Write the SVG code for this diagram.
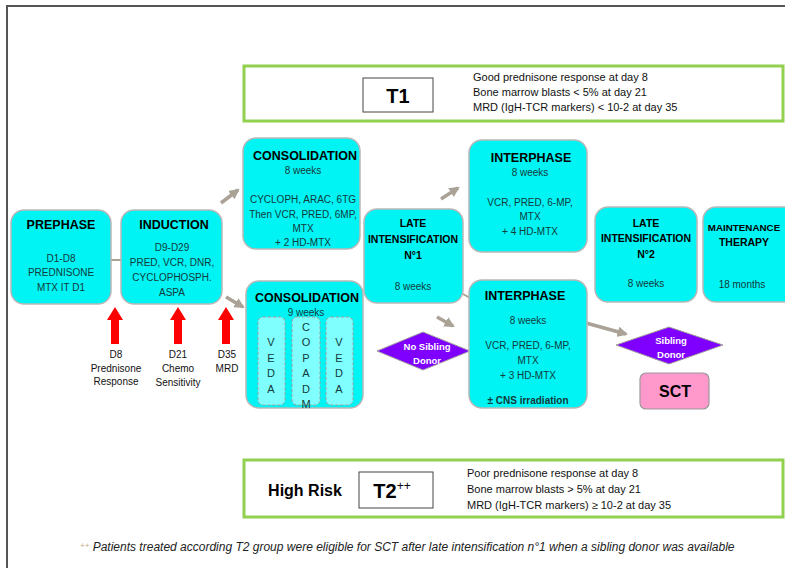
<svg xmlns="http://www.w3.org/2000/svg" width="785" height="568" viewBox="0 0 785 568">
<defs>
<marker id="ah" viewBox="0 0 10 10" refX="8" refY="5" markerWidth="3" markerHeight="3" orient="auto" markerUnits="strokeWidth">
<path d="M0,0 L10,5 L0,10 z" fill="#aaa296"/>
</marker>
<style>
.frame{stroke:#555;stroke-width:2;fill:none}
.grn{fill:#fff;stroke:#92d050;stroke-width:3}
.tbox{fill:#fff;stroke:#444;stroke-width:1}
.cy{fill:#00f4f4;stroke:#b8b8b8;stroke-width:1.5}
.sub{fill:#80ffff;stroke:#a0a0a0;stroke-width:1;stroke-dasharray:3,2}
.dia{fill:#7f00ff;stroke:#a0a0a0;stroke-width:1}
.sct{fill:#ff99cc;stroke:#999;stroke-width:1.2}
.con{stroke:#aaa296;stroke-width:3.5;fill:none}
.con2{stroke:#aaa296;stroke-width:2;fill:none}
.red{fill:#ff0000}
text{font-family:"Liberation Sans",Arial,sans-serif;text-anchor:middle;fill:#123a3a}
.h{font-weight:bold;font-size:12.5px;fill:#000}
.h2{font-weight:bold;font-size:10.5px;fill:#000}
.n{font-size:10px}
.s{font-size:11px;text-anchor:start;fill:#111}
.lbl{font-size:10px;fill:#111}
.dt{font-weight:bold;font-size:9.5px;fill:#fff}
.big{font-weight:bold;font-size:20px;fill:#000;font-family:Arial,"Liberation Sans",sans-serif}
.let{font-size:11px;fill:#123a3a}
</style>
</defs>
<rect width="785" height="568" fill="#fff"/>
<path class="frame" d="M7,568 V6 H785"/>

<g id="t1">
<rect class="grn" x="244" y="66" width="539" height="55"/>
<rect class="tbox" x="363" y="78" width="70" height="34"/>
<text class="big" x="398" y="103">T1</text>
<text class="s" x="473" y="81">Good prednisone response at day 8</text>
<text class="s" x="473" y="96">Bone marrow blasts &lt; 5% at day 21</text>
<text class="s" x="473" y="111">MRD (IgH-TCR markers) &lt; 10-2 at day 35</text>
</g>

<g id="t2">
<rect class="grn" x="244" y="460" width="539" height="57"/>
<text x="305" y="496" style="font-weight:bold;font-size:16px;fill:#000">High Risk</text>
<rect class="tbox" x="359" y="472" width="74" height="36"/>
<text class="big" x="392" y="498">T2<tspan font-size="12" dy="-8" font-weight="normal">++</tspan></text>
<text class="s" x="467" y="477">Poor prednisone response at day 8</text>
<text class="s" x="467" y="493">Bone marrow blasts &gt; 5% at day 21</text>
<text class="s" x="467" y="509">MRD (IgH-TCR markers) ≥ 10-2 at day 35</text>
</g>

<g id="connectors">
<line class="con2" x1="111" y1="260" x2="121" y2="260"/>
<line class="con" x1="221" y1="203" x2="238" y2="190" marker-end="url(#ah)"/>
<line class="con" x1="226" y1="297" x2="243" y2="307" marker-end="url(#ah)"/>
<line class="con" x1="441" y1="199" x2="458" y2="188" marker-end="url(#ah)"/>
<line class="con2" x1="463" y1="294" x2="470" y2="298"/>
<line class="con" x1="437" y1="317" x2="453" y2="326" marker-end="url(#ah)"/>
<line class="con" x1="586" y1="323" x2="626" y2="334" marker-end="url(#ah)"/>
</g>

<g id="prephase">
<rect class="cy" x="11" y="210" width="100" height="94" rx="13"/>
<text class="h" x="61" y="229">PREPHASE</text>
<text class="n" x="61" y="262">D1-D8</text>
<text class="n" x="61" y="276">PREDNISONE</text>
<text class="n" x="61" y="291">MTX IT D1</text>
</g>

<g id="induction">
<rect class="cy" x="121" y="210" width="101" height="94" rx="13"/>
<text class="h" x="174" y="229">INDUCTION</text>
<text class="n" x="172" y="251">D9-D29</text>
<text class="n" x="172" y="266">PRED, VCR, DNR,</text>
<text class="n" x="172" y="281">CYCLOPHOSPH.</text>
<text class="n" x="172" y="296">ASPA</text>
</g>

<g id="markers">
<path class="red" d="M115,307 L123,320 L119,320 L119,344 L111,344 L111,320 L107,320 z"/>
<path class="red" d="M178,307 L186,320 L182,320 L182,344 L174,344 L174,320 L170,320 z"/>
<path class="red" d="M226,307 L234,320 L230,320 L230,344 L222,344 L222,320 L218,320 z"/>
<text class="lbl" x="116" y="358">D8</text>
<text class="lbl" x="116" y="372">Prednisone</text>
<text class="lbl" x="116" y="385">Response</text>
<text class="lbl" x="178" y="358">D21</text>
<text class="lbl" x="178" y="372">Chemo</text>
<text class="lbl" x="178" y="386">Sensitivity</text>
<text class="lbl" x="227" y="358">D35</text>
<text class="lbl" x="227" y="372">MRD</text>
</g>

<g id="consolidation1">
<rect class="cy" x="243" y="138" width="117" height="111" rx="13"/>
<text class="h" x="305" y="160">CONSOLIDATION</text>
<text class="n" x="303" y="174">8 weeks</text>
<text class="n" x="303" y="203">CYCLOPH, ARAC, 6TG</text>
<text class="n" x="303" y="218">Then VCR, PRED, 6MP,</text>
<text class="n" x="303" y="232">MTX</text>
<text class="n" x="303" y="246">+ 2 HD-MTX</text>
</g>

<g id="consolidation2">
<rect class="cy" x="246" y="281" width="117" height="127" rx="13"/>
<text class="h" x="307" y="302">CONSOLIDATION</text>
<text class="n" x="306" y="316">9 weeks</text>
<rect class="sub" x="258" y="317" width="27" height="88" rx="5"/>
<rect class="sub" x="292" y="317" width="28" height="88" rx="5"/>
<rect class="sub" x="326" y="317" width="27" height="88" rx="5"/>
<g class="let">
<text x="271" y="346">V</text><text x="271" y="362">E</text><text x="271" y="377">D</text><text x="271" y="393">A</text>
<text x="306" y="331">C</text><text x="306" y="346">O</text><text x="306" y="362">P</text><text x="306" y="377">A</text><text x="306" y="393">D</text><text x="306" y="408">M</text>
<text x="339" y="346">V</text><text x="339" y="362">E</text><text x="339" y="377">D</text><text x="339" y="393">A</text>
</g>
</g>

<g id="lateint1">
<rect class="cy" x="364" y="209" width="99" height="94" rx="13"/>
<text class="h2" x="413" y="227">LATE</text>
<text class="h2" x="413" y="243">INTENSIFICATION</text>
<text class="h2" x="413" y="259">N°1</text>
<text class="n" x="413" y="290">8 weeks</text>
</g>

<g id="nosibling">
<polygon class="dia" points="377,351 423,332 470,351 423,370"/>
<text class="dt" x="427" y="350">No Sibling</text>
<text class="dt" x="427" y="364">Donor</text>
</g>

<g id="interphase1">
<rect class="cy" x="469" y="140" width="118" height="112" rx="13"/>
<text class="h" x="531" y="162">INTERPHASE</text>
<text class="n" x="530" y="176">8 weeks</text>
<text class="n" x="530" y="206">VCR, PRED, 6-MP,</text>
<text class="n" x="530" y="220">MTX</text>
<text class="n" x="530" y="235">+ 4 HD-MTX</text>
</g>

<g id="interphase2">
<rect class="cy" x="469" y="280" width="118" height="128" rx="13"/>
<text class="h" x="525" y="300">INTERPHASE</text>
<text class="n" x="528" y="324">8 weeks</text>
<text class="n" x="528" y="349">VCR, PRED, 6-MP,</text>
<text class="n" x="528" y="364">MTX</text>
<text class="n" x="528" y="379">+ 3 HD-MTX</text>
<text class="n" x="528" y="404" font-weight="bold">± CNS irradiation</text>
</g>

<g id="lateint2">
<rect class="cy" x="595" y="207" width="102" height="95" rx="13"/>
<text class="h2" x="646" y="227">LATE</text>
<text class="h2" x="646" y="242">INTENSIFICATION</text>
<text class="h2" x="646" y="258">N°2</text>
<text class="n" x="646" y="287">8 weeks</text>
</g>

<g id="maintenance">
<rect class="cy" x="703" y="207" width="95" height="95" rx="13"/>
<text x="744" y="231" style="font-weight:bold;font-size:9.8px;fill:#000">MAINTENANCE</text>
<text class="h2" x="744" y="246">THERAPY</text>
<text class="n" x="742" y="288">18 months</text>
</g>

<g id="sibling">
<polygon class="dia" points="616,345 669,327 723,345 669,364"/>
<text class="dt" x="671" y="344">Sibling</text>
<text class="dt" x="671" y="358">Donor</text>
</g>

<g id="sct">
<rect class="sct" x="640" y="373" width="69" height="36" rx="6"/>
<text x="675" y="397" style="font-family:Arial,'Liberation Sans',sans-serif;font-weight:bold;font-size:16px;fill:#000">SCT</text>
</g>

<g id="footnote">
<text x="80" y="551" style="text-anchor:start;font-size:12px;font-style:italic;fill:#222"><tspan fill="#c8a878" font-size="8" dy="-3">++</tspan><tspan dy="3"> Patients treated according T2 group were eligible for SCT after late intensification n°1 when a sibling donor was available</tspan></text>
</g>
</svg>
